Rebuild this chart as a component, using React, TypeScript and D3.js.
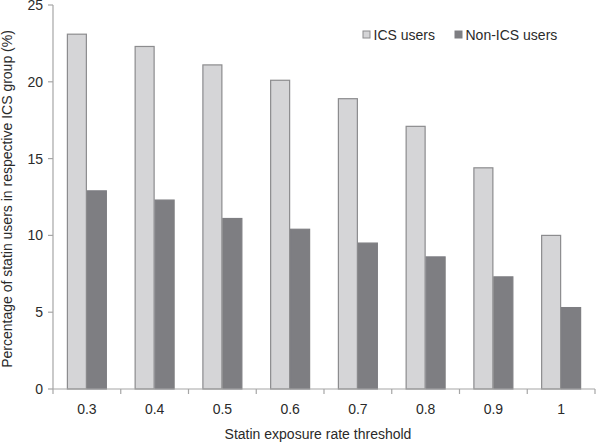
import React from "react";
import * as d3 from "d3";

const categories = ["0.3", "0.4", "0.5", "0.6", "0.7", "0.8", "0.9", "1"];
const seriesNames = ["ICS users", "Non-ICS users"];
const icsUsers = [23.1, 22.3, 21.1, 20.1, 18.9, 17.1, 14.4, 10.0];
const nonIcsUsers = [12.9, 12.3, 11.1, 10.4, 9.5, 8.6, 7.3, 5.3];
const yTicks = [0, 5, 10, 15, 20, 25];

const W = 600;
const H = 442;
const left = 53;
const right = 595;
const top = 5;
const bottom = 389;
const fills = ["#d5d5d7", "#7e7e82"];
const strokes = ["#8c8c8e", "#7e7e82"];
const axisColor = "#a6a6a6";
const textColor = "#2a2a2a";
const font = "'Liberation Sans', Arial, sans-serif";

export default function App() {
  const x = d3.scaleBand<string>().domain(categories).range([left, right]).paddingInner(0).paddingOuter(0);
  const groupW = x.bandwidth() * 0.59;
  const x1 = d3.scaleBand<string>().domain(seriesNames).range([0, groupW]).padding(0);
  const y = d3.scaleLinear().domain([0, 25]).range([bottom, top]);
  const series = [icsUsers, nonIcsUsers];
  const boundaries = categories.map((c) => x(c)!).concat([right]);

  return (
    <svg width={W} height={H} style={{ position: "absolute", left: 0, top: 0, background: "#fff" }} fontFamily={font}>
      {/* bars */}
      {categories.map((c, i) => (
        <g key={c} transform={`translate(${x(c)! + (x.bandwidth() - groupW) / 2},0)`}>
          {series.map((s, j) => (
            <rect
              key={j}
              x={x1(seriesNames[j])! + 0.5}
              y={y(s[i])}
              width={x1.bandwidth() - 1}
              height={y(0) - y(s[i])}
              fill={fills[j]}
              stroke={strokes[j]}
              strokeWidth={1.2}
            />
          ))}
        </g>
      ))}
      {/* y axis */}
      <line x1={left} x2={left} y1={top} y2={bottom} stroke={axisColor} strokeWidth={1.2} />
      {yTicks.map((t) => (
        <g key={t}>
          <line x1={left - 5} x2={left} y1={y(t)} y2={y(t)} stroke={axisColor} strokeWidth={1.2} />
          <text x={left - 10} y={y(t)} dy="0.36em" textAnchor="end" fontSize={14} fill={textColor}>
            {t}
          </text>
        </g>
      ))}
      {/* x axis */}
      <line x1={left} x2={right} y1={bottom} y2={bottom} stroke={axisColor} strokeWidth={1.2} />
      {boundaries.map((b, i) => (
        <line key={i} x1={b} x2={b} y1={bottom} y2={bottom + 5} stroke={axisColor} strokeWidth={1.2} />
      ))}
      {categories.map((c) => (
        <text key={c} x={x(c)! + x.bandwidth() / 2} y={414} textAnchor="middle" fontSize={14} fill={textColor}>
          {c}
        </text>
      ))}
      <text x={318} y={439} textAnchor="middle" fontSize={14} fill={textColor}>
        Statin exposure rate threshold
      </text>
      <text
        transform={`translate(12,199) rotate(-90)`}
        textAnchor="middle"
        fontSize={14}
        fill={textColor}
      >
        Percentage of statin users in respective ICS group (%)
      </text>
      {/* legend */}
      {seriesNames.map((n, j) => {
        const lx = [363, 455][j];
        return (
          <g key={n}>
            <rect x={lx} y={31} width={7} height={7} fill={fills[j]} stroke={strokes[j]} strokeWidth={1} />
            <text x={lx + 10.5} y={39.5} fontSize={14} fill={textColor}>
              {n}
            </text>
          </g>
        );
      })}
    </svg>
  );
}
